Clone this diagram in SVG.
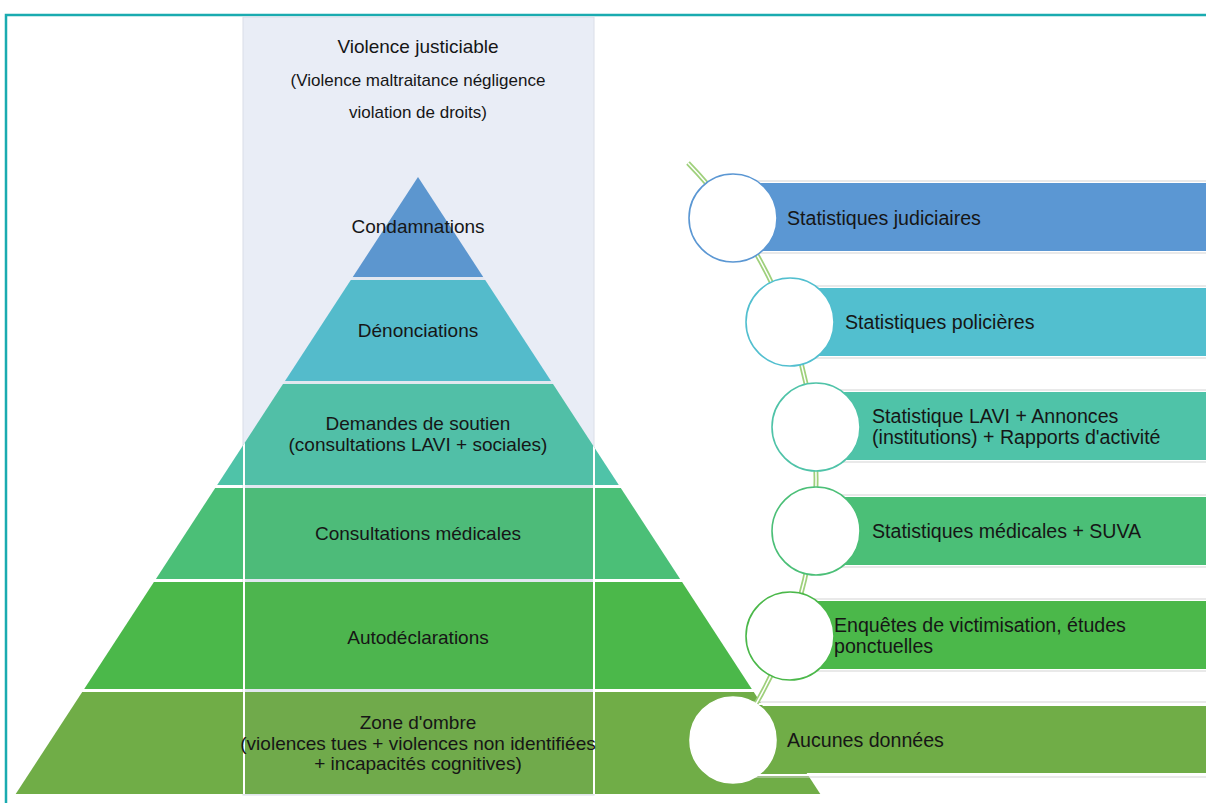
<svg xmlns="http://www.w3.org/2000/svg" width="1206" height="803" viewBox="0 0 1206 803">
<style>
text{font-family:"Liberation Sans",Arial,sans-serif;fill:#161616}
.lbl{font-size:19px;text-anchor:middle;dominant-baseline:central}
.top{font-size:17px;text-anchor:middle;dominant-baseline:central}
.rt{font-size:19.6px;dominant-baseline:central}
.gap{fill:none;stroke:#d3d3d3;stroke-width:1}
.circ{fill:#ffffff;stroke-width:1.6}
</style>
<rect x="0" y="0" width="1206" height="803" fill="#ffffff"/>
<!-- frame -->
<path d="M6 803 V15 H1206" fill="none" stroke="#1aabb0" stroke-width="2.5"/>
<!-- background column -->
<rect id="column-bg" x="243" y="17" width="351" height="778" fill="#e9edf6" stroke="#dadee8" stroke-width="1"/>
<g id="column-title">
<text class="lbl" x="418" y="46">Violence justiciable</text>
<text class="top" x="418" y="80">(Violence maltraitance négligence</text>
<text class="top" x="418" y="112">violation de droits)</text>
</g>
<!-- pyramid -->
<g id="layer-condamnations">
<polygon points="418,177 483.2,277 352.8,277" fill="#5b97d3"/>
</g>
<g id="layer-denonciations">
<polygon points="350.8,280 485.2,280 551,381 285,381" fill="#52bfcf"/>
</g>
<g id="layer-demandes">
<polygon points="283,384 553,384 618.8,485 217.2,485" fill="#4fc3a8"/>
</g>
<g id="layer-consultations">
<polygon points="215.2,488 620.8,488 680.1,579 155.9,579" fill="#4bbf77"/>
</g>
<g id="layer-autodeclarations">
<polygon points="153.9,582 682.1,582 751.8,689 84.2,689" fill="#4bb84a"/>
</g>
<g id="layer-zone">
<polygon points="82.2,692 753.8,692 820.3,794 15.7,794" fill="#70ad47"/>
</g>
<g id="column-overlay">
<clipPath id="pyr"><polygon points="418,177 820.3,794 15.7,794"/></clipPath>
<rect x="244" y="17" width="350" height="778" fill="#7a8aa0" fill-opacity="0.06" clip-path="url(#pyr)"/>
<rect x="244" y="17" width="350" height="778" fill="none" stroke="#ffffff" stroke-width="2" clip-path="url(#pyr)"/>
</g>
<g id="pyramid-labels">
<text class="lbl" x="418" y="226">Condamnations</text>
<text class="lbl" x="418" y="330">Dénonciations</text>
<text class="lbl" x="418" y="423">Demandes de soutien</text>
<text class="lbl" x="418" y="444">(consultations LAVI + sociales)</text>
<text class="lbl" x="418" y="533">Consultations médicales</text>
<text class="lbl" x="418" y="637">Autodéclarations</text>
<text class="lbl" x="418" y="722">Zone d'ombre</text>
<text class="lbl" x="418" y="743">(violences tues + violences non identifiées</text>
<text class="lbl" x="418" y="763">+ incapacités cognitives)</text>
</g>
<!-- bands -->
<g id="band-judiciaires">
<rect class="gap" x="733" y="181" width="480" height="72"/>
<rect x="733" y="183" width="480" height="68" fill="#5b97d3"/>
<text class="rt" x="787" y="218">Statistiques judiciaires</text>
</g>
<g id="band-policieres">
<rect class="gap" x="790" y="286" width="420" height="72"/>
<rect x="790" y="288" width="420" height="68" fill="#52bfcf"/>
<text class="rt" x="845" y="322">Statistiques policières</text>
</g>
<g id="band-lavi">
<rect class="gap" x="816" y="390" width="400" height="72"/>
<rect x="816" y="392" width="400" height="68" fill="#4fc3a8"/>
<text class="rt" x="872" y="416">Statistique LAVI + Annonces</text>
<text class="rt" x="872" y="437">(institutions) + Rapports d'activité</text>
</g>
<g id="band-medicales">
<rect class="gap" x="816" y="495" width="400" height="72"/>
<rect x="816" y="497" width="400" height="68" fill="#4bbf77"/>
<text class="rt" x="872" y="531">Statistiques médicales + SUVA</text>
</g>
<g id="band-enquetes">
<rect class="gap" x="790" y="599" width="420" height="72"/>
<rect x="790" y="601" width="420" height="68" fill="#4bb84a"/>
<text class="rt" x="834" y="625">Enquêtes de victimisation, études</text>
<text class="rt" x="834" y="646">ponctuelles</text>
</g>
<g id="band-aucunes">
<rect x="733" y="704" width="480" height="71" fill="none" stroke="#ffffff" stroke-width="2"/>
<rect class="gap" x="733" y="702" width="480" height="75"/>
<rect x="733" y="706" width="480" height="67" fill="#70ad47"/>
<text class="rt" x="787" y="740">Aucunes données</text>
</g>
<!-- connector -->
<g id="connectors">
<path d="M688 163 A453 453 0 0 1 733 740" fill="none" stroke="#9fd07c" stroke-width="5"/>
<path d="M688 163 A453 453 0 0 1 733 740" fill="none" stroke="#ffffff" stroke-width="1.5"/>
</g>
<!-- circles -->
<g id="circle-1"><circle class="circ" cx="733" cy="218" r="44" stroke="#5b97d3"/></g>
<g id="circle-2"><circle class="circ" cx="790" cy="322" r="44" stroke="#52bfcf"/></g>
<g id="circle-3"><circle class="circ" cx="816" cy="427" r="44" stroke="#4fc3a8"/></g>
<g id="circle-4"><circle class="circ" cx="816" cy="531" r="44" stroke="#4bbf77"/></g>
<g id="circle-5"><circle class="circ" cx="790" cy="636" r="44" stroke="#4bb84a"/></g>
<g id="circle-6"><circle class="circ" cx="733" cy="740" r="43" stroke="#ffffff"/></g>
</svg>
